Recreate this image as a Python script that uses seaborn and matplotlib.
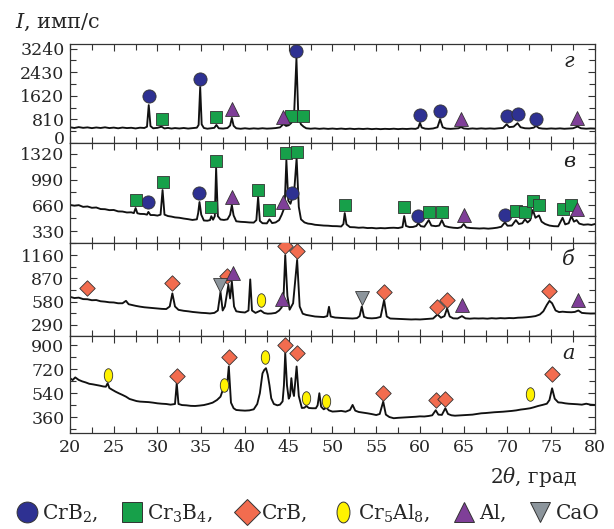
import numpy as np
import pandas as pd
import matplotlib
matplotlib.use("Agg")
import matplotlib.pyplot as plt
import seaborn as sns
from matplotlib.path import Path
from matplotlib.transforms import Affine2D, ScaledTranslation
from matplotlib.markers import MarkerStyle
from matplotlib.lines import Line2D
from matplotlib.ticker import MultipleLocator

# ---------------- data: XRD traces (2theta, intensity) ----------------
theta_g = [20.0,20.5,21.0,21.5,22.0,22.5,23.0,23.5,24.0,24.5,25.0,25.5,26.0,26.5,27.0,27.5,28.0,28.5,28.8,29.0,29.2,29.5,
           30.0,30.45,30.8,31.2,31.6,32.0,32.5,33.0,33.5,34.0,34.5,34.7,34.88,35.05,35.3,35.7,36.2,36.5,36.73,37.0,37.5,
           38.0,38.3,38.5,38.7,39.0,39.5,40.0,40.5,41.0,41.5,42.0,42.5,43.0,43.5,44.0,44.4,44.7,45.0,45.3,45.6,45.88,46.1,
           46.4,46.7,47.0,47.5,48.0,48.5,49.0,49.5,50.0,50.5,51.0,51.5,52.0,52.5,53.0,53.5,54.0,54.5,55.0,55.5,56.0,56.5,
           57.0,57.5,58.0,58.5,59.0,59.5,59.8,60.0,60.2,60.6,61.0,61.5,62.0,62.3,62.6,63.0,63.5,64.0,64.4,64.7,65.0,65.5,
           66.0,66.5,67.0,67.5,68.0,68.5,69.0,69.5,69.9,70.2,70.7,71.15,71.5,72.0,72.5,73.0,73.27,73.6,74.0,74.5,75.0,75.5,
           76.0,76.5,77.0,77.5,78.0,78.4,79.0,79.5,80.0]
I_g = [540,515,545,520,535,510,532,515,538,512,528,505,530,512,522,500,525,515,560,1300,580,505,
       520,560,500,518,495,512,498,515,495,510,525,620,1920,640,515,490,508,520,620,505,495,
       515,600,860,590,505,488,505,488,502,490,506,492,500,512,535,650,585,610,690,880,2900,880,
       640,560,505,490,502,486,498,484,496,482,495,480,493,478,490,480,492,476,488,475,486,478,
       490,476,488,480,492,485,520,690,530,492,485,498,540,815,540,495,485,498,505,545,500,486,
       500,488,502,490,500,490,505,515,640,545,560,680,540,505,500,525,585,512,495,488,500,490,
       502,488,498,505,565,505,490,500,495]

theta_v = [20.0,20.5,21.0,21.5,22.0,22.5,23.0,23.5,24.0,24.5,25.0,25.5,26.0,26.5,27.0,27.3,27.5,27.7,28.0,28.5,28.8,28.96,
           29.2,29.6,30.0,30.35,30.58,30.8,31.2,31.6,32.0,32.5,33.0,33.5,34.0,34.5,34.65,34.8,35.0,35.3,35.7,36.0,36.15,
           36.35,36.55,36.7,36.9,37.2,37.6,38.0,38.3,38.5,38.7,39.0,39.5,40.0,40.5,41.0,41.3,41.5,41.7,42.0,42.5,42.8,43.1,
           43.5,43.9,44.2,44.4,44.55,44.73,44.95,45.2,45.4,45.6,45.9,46.15,46.4,46.8,47.2,47.6,48.0,48.5,49.0,49.5,50.0,
           50.5,51.0,51.25,51.4,51.6,52.0,52.5,53.0,53.5,54.0,54.5,55.0,55.5,56.0,56.5,57.0,57.5,58.0,58.2,58.4,58.8,59.2,
           59.6,59.8,60.1,60.5,61.0,61.3,61.8,62.2,62.5,62.8,63.3,63.8,64.3,64.7,65.0,65.3,65.8,66.3,66.8,67.3,67.8,68.3,
           68.8,69.3,69.7,70.0,70.5,70.96,71.3,71.7,72.0,72.3,72.6,72.9,73.2,73.6,73.9,74.3,74.8,75.3,75.8,76.3,76.6,77.0,
           77.3,77.6,77.9,78.2,78.7,79.2,79.6,80.0]
I_v = [665,655,662,640,645,628,632,612,610,598,600,582,580,568,570,560,625,558,550,548,540,575,
       535,535,528,540,856,540,522,515,505,500,490,482,472,480,560,702,540,465,462,470,520,
       475,520,1140,520,478,472,480,540,663,530,455,448,445,440,438,470,766,460,430,428,480,432,
       440,470,540,600,700,1240,720,680,760,800,1265,640,480,440,425,420,410,405,400,398,393,
       392,388,420,560,415,380,378,372,375,368,370,364,368,365,370,372,368,380,522,395,380,382,
       395,430,392,385,470,400,392,400,470,395,380,372,368,378,420,375,368,365,362,365,360,365,
       372,385,440,398,400,470,420,430,480,440,470,600,500,530,450,420,400,392,390,500,415,430,
       520,450,470,425,410,415,408,420]

theta_b = [20.0,20.5,21.0,21.5,22.0,22.5,23.0,23.5,24.0,24.5,25.0,25.5,26.0,26.4,26.7,27.0,27.5,28.0,28.5,29.0,29.5,30.0,
           30.5,31.0,31.4,31.7,32.0,32.4,33.0,33.5,34.0,34.5,35.0,35.5,36.0,36.5,36.9,37.2,37.45,37.7,38.1,38.3,38.5,38.75,
           39.0,39.5,40.0,40.4,40.6,40.8,41.2,41.8,42.2,42.6,43.0,43.5,43.9,44.2,44.4,44.6,44.85,45.1,45.5,45.96,46.25,46.6,
           47.0,47.5,48.0,48.5,49.0,49.4,49.6,49.8,50.3,50.8,51.3,51.8,52.3,52.8,53.1,53.35,53.6,54.0,54.5,55.0,55.5,55.9,
           56.2,56.6,57.0,57.5,58.0,58.5,59.0,59.5,60.0,60.5,61.0,61.5,62.0,62.4,62.8,63.1,63.4,63.8,64.3,64.8,65.2,65.7,
           66.2,66.7,67.2,67.7,68.2,68.7,69.2,69.7,70.2,70.7,71.2,71.7,72.2,72.7,73.2,73.7,74.1,74.5,74.8,75.1,75.5,75.9,
           76.3,76.8,77.3,77.7,78.1,78.5,79.0,79.5,80.0]
I_b = [640,625,630,612,610,598,600,585,580,572,570,560,560,590,548,540,528,518,510,505,500,496,
       490,488,520,683,520,478,466,460,452,446,441,438,433,440,470,700,470,520,790,620,830,520,
       460,450,445,470,857,470,440,470,438,430,432,440,470,510,620,1160,650,480,560,1100,520,430,
       415,405,395,392,388,400,516,395,382,378,375,372,370,375,400,520,390,375,372,376,390,600,
       395,370,368,365,362,360,358,360,358,362,365,370,420,380,400,496,395,372,370,400,372,368,
       372,370,372,368,374,370,375,372,376,374,380,382,386,392,400,420,460,540,590,560,470,450,
       455,450,448,452,470,440,435,432,433]

theta_a = [20.0,20.3,20.6,21.0,21.4,21.8,22.2,22.6,23.0,23.4,23.8,24.1,24.3,24.5,24.8,25.2,25.6,26.0,26.4,26.8,27.2,27.6,
           28.0,28.5,29.0,29.5,30.0,30.5,31.0,31.5,32.0,32.2,32.4,32.8,33.3,33.8,34.3,34.8,35.3,35.8,36.3,36.8,37.2,37.6,
           37.9,38.15,38.4,38.7,39.0,39.5,40.0,40.5,41.0,41.4,41.7,42.0,42.2,42.4,42.6,42.8,43.0,43.3,43.7,44.0,44.3,44.45,
           44.6,44.8,45.0,45.15,45.3,45.45,45.6,45.9,46.15,46.5,46.8,47.0,47.3,47.7,48.1,48.3,48.5,48.7,49.0,49.3,49.6,50.0,
           50.5,51.0,51.5,52.0,52.3,52.6,53.0,53.5,54.0,54.5,55.0,55.4,55.8,56.1,56.5,57.0,57.5,58.0,58.5,59.0,59.5,60.0,
           60.5,61.0,61.4,61.8,62.1,62.5,62.9,63.2,63.6,64.0,64.5,65.0,65.5,66.0,66.5,67.0,67.5,68.0,68.5,69.0,69.5,70.0,
           70.5,71.0,71.5,72.0,72.6,73.0,73.5,74.0,74.5,74.8,75.1,75.4,75.8,76.2,76.6,77.0,77.5,78.0,78.5,79.0,79.5,80.0]
I_a = [654,640,660,641,630,622,612,608,603,598,592,590,616,580,568,553,540,528,515,498,490,482,
       478,476,474,470,465,462,460,455,460,616,460,452,450,446,445,448,452,460,470,490,515,591,
       560,742,470,428,415,412,410,412,420,460,541,690,716,729,680,600,503,460,450,455,480,600,
       842,600,500,520,654,560,520,742,520,430,432,445,430,428,428,450,541,440,420,432,412,403,
       405,408,402,415,453,410,400,395,390,384,377,385,478,380,362,353,356,358,360,362,364,367,
       366,370,375,413,380,378,428,385,375,372,374,376,378,380,385,390,392,395,398,400,402,405,
       408,412,418,422,428,435,445,453,462,490,578,500,472,470,465,462,460,458,455,462,455,453]

# ---------------- phase markers (phase, 2theta, marker height) ----------------
phases = ["CrB2", "Cr3B4", "CrB", "Cr5Al8", "Al", "CaO"]
phase_labels = ["CrB$_2$,", "Cr$_3$B$_4$,", "CrB,", "Cr$_5$Al$_8$,", "Al,", "CaO"]

mk_g_phase = ["CrB2"]*8 + ["Cr3B4"]*4 + ["Al"]*4
mk_g_theta = [29.04, 34.88, 45.88, 60.0, 62.3, 69.9, 71.15, 73.27, 30.46, 36.73, 45.27, 46.65, 38.5, 44.4, 64.7, 78.0]
mk_g_I = [1610, 2195, 3156, 960, 1105, 926, 995, 823, 823, 903, 926, 926, 1166, 880, 823, 861]

mk_v_phase = ["Cr3B4"]*18 + ["CrB2"]*5 + ["Al"]*4
mk_v_theta = [27.5, 30.58, 36.15, 36.7, 41.5, 42.8, 44.73, 45.9, 51.4, 58.2, 61.0, 62.5, 70.96, 72.0, 72.9, 73.6, 76.3, 77.3,
              28.96, 34.8, 45.4, 59.8, 69.7, 38.5, 44.35, 65.0, 77.9]
mk_v_I = [727, 960, 637, 1230, 856, 600, 1330, 1345, 663, 637, 573, 573, 586, 573, 715, 663, 612, 663,
          700, 817, 817, 522, 535, 766, 700, 535, 612]

mk_b_phase = ["CrB"]*9 + ["Al"]*4 + ["CaO"]*2 + ["Cr5Al8"]
mk_b_theta = [21.9, 31.7, 37.9, 44.6, 45.96, 55.9, 62.0, 63.1, 74.8, 38.6, 44.2, 64.8, 78.1, 37.2, 53.35, 41.8]
mk_b_I = [745, 807, 905, 1268, 1210, 703, 508, 599, 715, 940, 608, 537, 599, 786, 620, 600]

mk_a_phase = ["Cr5Al8"]*6 + ["CrB"]*8
mk_a_theta = [24.3, 37.6, 42.3, 47.0, 49.3, 72.6, 32.2, 38.15, 44.6, 45.9, 55.8, 61.8, 62.9, 75.1]
mk_a_I = [679, 603, 817, 508, 483, 533, 674, 812, 905, 847, 541, 490, 496, 684]

panel_letters = ["г", "в", "б", "а"]
ylims = [(0, 3400), (175, 1460), (150, 1310), (240, 970)]
ysteps = [810, 330, 290, 180]
yticks_list = [[0, 810, 1620, 2430, 3240], [330, 660, 990, 1320], [290, 580, 870, 1160], [360, 540, 720, 900]]

# ---------------- styles ----------------
ellipse = Path.unit_circle().transformed(Affine2D().scale(0.62, 1.0))
phase_style = {
    "CrB2":   dict(marker="o", color="#2e3192", s=90),
    "Cr3B4":  dict(marker="s", color="#17a04a", s=80),
    "CrB":    dict(marker="D", color="#f26c4f", s=62),
    "Cr5Al8": dict(marker=MarkerStyle(ellipse), color="#fff200", s=95),
    "Al":     dict(marker="^", color="#7f3f98", s=100),
    "CaO":    dict(marker="v", color="#8c959c", s=100),
}

sns.set_theme(style="ticks")
plt.rcParams["font.family"] = ["DejaVu Serif"]
plt.rcParams["mathtext.fontset"] = "dejavuserif"

fig = plt.figure(figsize=(6.14, 5.29), dpi=100)
gs = fig.add_gridspec(4, 1, left=0.114, right=0.969, top=0.917, bottom=0.181,
                      hspace=0, height_ratios=[99, 100, 93, 97])
axes = [fig.add_subplot(gs[i]) for i in range(4)]

traces = [(theta_g, I_g), (theta_v, I_v), (theta_b, I_b), (theta_a, I_a)]
marks = [(mk_g_phase, mk_g_theta, mk_g_I), (mk_v_phase, mk_v_theta, mk_v_I),
         (mk_b_phase, mk_b_theta, mk_b_I), (mk_a_phase, mk_a_theta, mk_a_I)]

for i, ax in enumerate(axes):
    th, inten = traces[i]
    sns.lineplot(x=th, y=inten, ax=ax, color="#111111", lw=1.35, estimator=None, sort=False)
    mp, mt, mi = marks[i]
    dfm = pd.DataFrame({"phase": mp, "theta": mt, "I": mi})
    for ph in phases:
        sub = dfm[dfm.phase == ph]
        if len(sub) == 0:
            continue
        st = phase_style[ph]
        sns.scatterplot(data=sub, x="theta", y="I", ax=ax, marker=st["marker"], color=st["color"],
                        s=st["s"], edgecolor="#333333", linewidth=0.6, zorder=5, legend=False)
    ax.set_xlim(20, 80)
    ax.set_ylim(*ylims[i])
    ax.xaxis.set_major_locator(MultipleLocator(5))
    ax.xaxis.set_minor_locator(MultipleLocator(2.5))
    ax.set_yticks(yticks_list[i])
    ax.yaxis.set_minor_locator(MultipleLocator(ysteps[i] / 2))
    ax.tick_params(which="both", direction="in", top=True, right=True, labelsize=12.5,
                   color="#333333", width=0.8, pad=4)
    ax.tick_params(which="major", length=5)
    ax.tick_params(which="minor", length=4)
    ax.set_xlabel("")
    ax.set_ylabel("")
    for sp in ax.spines.values():
        sp.set_color("#333333")
        sp.set_linewidth(0.9)
    if i < 3:
        ax.tick_params(labelbottom=False)
    ax.text(0.95, 0.82, panel_letters[i], transform=ax.transAxes, ha="center", va="center",
            fontsize=15, style="italic", color="#222222")

# nudge the "0" label of the top panel upward so it does not collide with 1320
tick0 = axes[0].yaxis.get_major_ticks()[0]
tick0.label1.set_transform(tick0.label1.get_transform() + ScaledTranslation(0, 4 / 72, fig.dpi_scale_trans))

fig.text(0.024, 0.957, "$I$, имп/с", fontsize=15, ha="left", va="center")
fig.text(0.94, 0.098, r"$2\theta$, град", fontsize=14.5, ha="right", va="center")

handles = []
for ph in phases:
    st = phase_style[ph]
    handles.append(Line2D([], [], ls="", marker=st["marker"], markerfacecolor=st["color"],
                          markeredgecolor="#333333", markeredgewidth=0.7,
                          markersize=15 if ph != "CrB" else 13))
fig.legend(handles, phase_labels, loc="center", bbox_to_anchor=(0.5, 0.03), ncol=6,
           frameon=False, fontsize=14.5, handletextpad=0.15, columnspacing=1.1, handlelength=1.2,
           borderaxespad=0)

fig.savefig("out.png", dpi=100)
